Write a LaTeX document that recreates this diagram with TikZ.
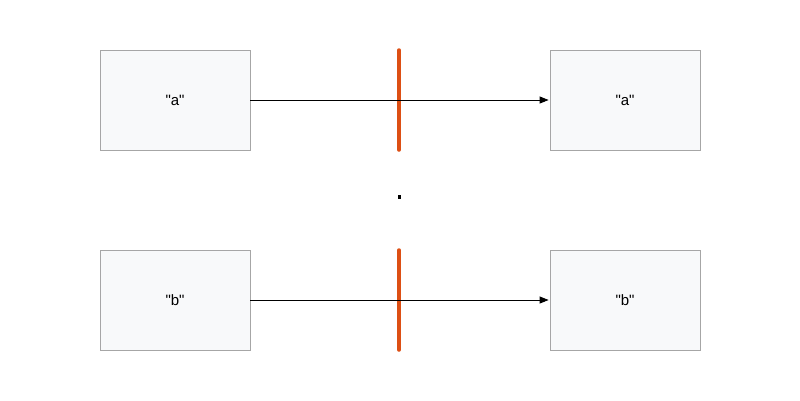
\documentclass[tikz,border=0pt]{standalone}
\usepackage{fontspec}
\setmainfont{Liberation Sans}
\usetikzlibrary{arrows.meta}
\definecolor{boxfill}{HTML}{F8F9FA}
\definecolor{boxline}{HTML}{A6A6A6}
\definecolor{barcol}{HTML}{DD4F14}
\begin{document}
\begin{tikzpicture}[x=1pt,y=-1pt,
  box/.style={draw=boxline,fill=boxfill,line width=0.8pt,minimum width=150pt,minimum height=100pt,inner sep=0pt,font=\fontsize{15}{17}\selectfont},
  conn/.style={draw=black,line width=0.9pt,-{Triangle[length=9pt,width=7pt]}},
  bar/.style={draw=barcol,line width=3.5pt,line cap=round}]
\useasboundingbox (0,0) rectangle (800,400);
\node[box] (a1) at (175,100) {\textquotedbl a\textquotedbl};
\node[box] (a2) at (625,100) {\textquotedbl a\textquotedbl};
\node[box] (b1) at (175,300) {\textquotedbl b\textquotedbl};
\node[box] (b2) at (625,300) {\textquotedbl b\textquotedbl};
\coordinate (t1) at (399,50);
\coordinate (t2) at (399,150);
\coordinate (u1) at (399,250);
\coordinate (u2) at (399,350);
\draw[bar] (t1) -- (t2);
\draw[bar] (u1) -- (u2);
\draw[conn] (a1.east) -- ([xshift=-1pt]a2.west);
\draw[conn] (b1.east) -- ([xshift=-1pt]b2.west);
\fill[black] (397.5,195) rectangle (401,198.5);
\end{tikzpicture}
\end{document}
